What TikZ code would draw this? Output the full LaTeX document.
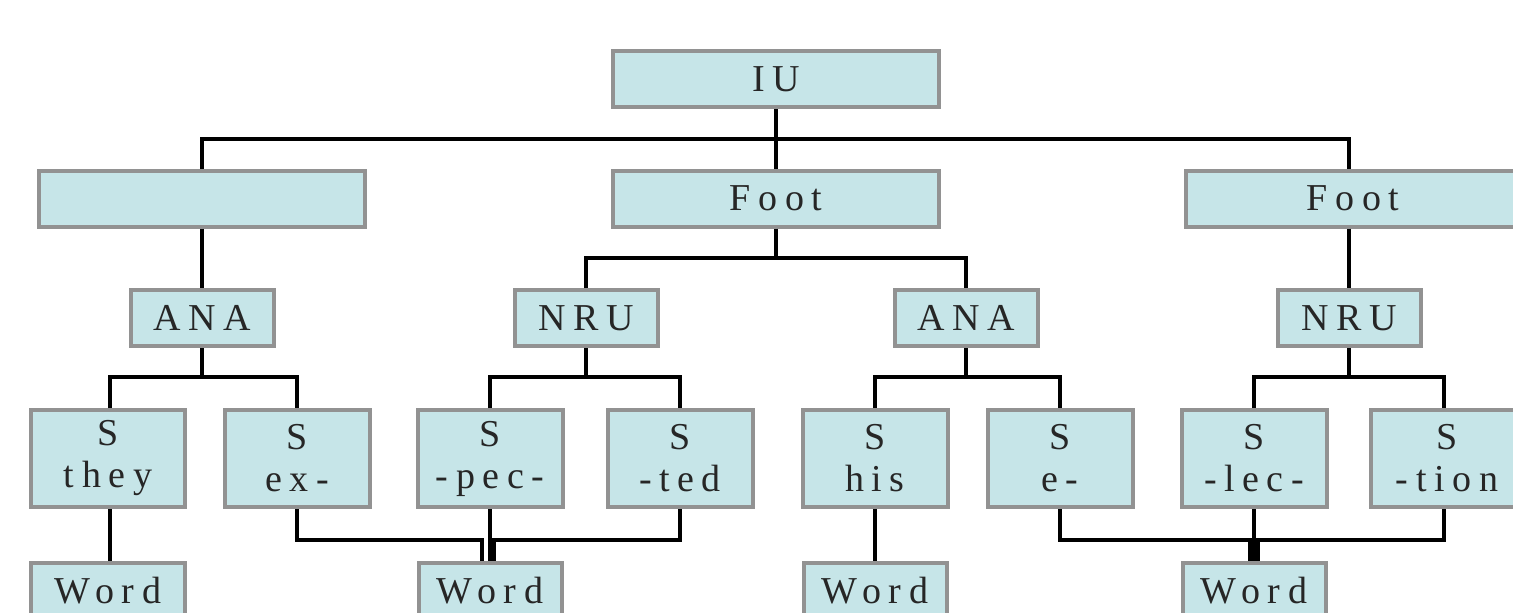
\documentclass[tikz,border=0pt]{standalone}
\usepackage{fontspec}
\newfontfamily\boxfont[LetterSpace=20]{Liberation Serif}
\definecolor{boxfill}{RGB}{198,229,232}
\definecolor{boxgray}{RGB}{146,146,146}

\begin{document}
\begin{tikzpicture}[x=1pt,y=-1pt,
  unit/.style={draw=boxgray, line width=4pt, fill=boxfill, text=black!85,
    inner sep=0pt, align=center, font=\boxfont\fontsize{38}{42}\selectfont},
  wide/.style={unit, minimum width=326pt, minimum height=56pt},
  small/.style={unit, minimum width=143pt, minimum height=56pt},
  syl/.style={unit, minimum width=145pt, minimum height=97pt},
  link/.style={line width=3.3pt}]
\useasboundingbox (0,0) rectangle (1513,613);
\clip (0,0) rectangle (1513,613);

% top unit
\node (iu) [wide] at (776,79) {IU};

% feet
\node (blank) [wide] at (202,198.5) {};
\node (foot1) [wide] at (776,198.5) {Foot};
\node (foot2) [wide, minimum width=334pt] at (1353,198.5) {Foot};

% third row
\node (ana1) [small] at (202,318) {ANA};
\node (nru1) [small] at (586,318) {NRU};
\node (ana2) [small] at (966,318) {ANA};
\node (nru2) [small] at (1349,318) {NRU};

% syllables
\node (sthey) [syl, minimum width=154pt] at (108,458.5) {S\\they};
\node (sex) [syl] at (297,458.5) {S\\ex-};
\node (spec) [syl] at (490,458.5) {S\\-pec-};
\node (sted) [syl] at (680,458.5) {S\\-ted};
\node (shis) [syl] at (875,458.5) {S\\his};
\node (se) [syl] at (1060,458.5) {S\\e-};
\node (slec) [syl] at (1254,458.5) {S\\-lec-};
\node (stion) [syl, minimum width=152pt] at (1447,458.5) {S\\-tion};

% words
\node (word1) [small, minimum width=154pt] at (108,591) {Word};
\node (word2) [small] at (490,591) {Word};
\node (word3) [small] at (875,591) {Word};
\node (word4) [small] at (1254,591) {Word};

% bar levels
\coordinate (bar0) at (776,139);
\coordinate (bar1) at (776,258);
\coordinate (bar2) at (202,377);
\coordinate (bar3) at (586,377);
\coordinate (bar4) at (966,377);
\coordinate (bar5) at (1349,377);

% IU to feet
\draw[link] (iu.south) -- (foot1.north);
\draw[link] (blank.north) |- (bar0) -| (foot2.north -| 1349,0);

% feet to second level
\draw[link] (blank.south) -- (ana1.north);
\draw[link] (foot1.south) -- (bar1);
\draw[link] (nru1.north) |- (bar1) -| (ana2.north);
\draw[link] (foot2.south -| 1349,0) -- (nru2.north);

% second level to syllables
\draw[link] (ana1.south) -- (bar2);
\draw[link] (sthey.north -| 110,0) |- (bar2) -| (sex.north);
\draw[link] (nru1.south) -- (bar3);
\draw[link] (spec.north) |- (bar3) -| (sted.north);
\draw[link] (ana2.south) -- (bar4);
\draw[link] (shis.north) |- (bar4) -| (se.north);
\draw[link] (nru2.south) -- (bar5);
\draw[link] (slec.north) |- (bar5) -| (stion.north -| 1444,0);

% syllables to words
\coordinate (j1) at (482,540);
\coordinate (j2) at (494,540);
\coordinate (j3) at (1250,540);
\coordinate (j4) at (1258,540);
\draw[link] (sthey.south -| 110,0) -- (word1.north -| 110,0);
\draw[link] (sex.south) |- (j1) -- (j1 |- word2.north);
\draw[link] (spec.south) -- (word2.north);
\draw[link] (sted.south) |- (j2) -- (j2 |- word2.north);
\draw[link] (shis.south) -- (word3.north);
\draw[link] (se.south) |- (j3) -- (j3 |- word4.north);
\draw[link] (slec.south) -- (word4.north);
\draw[link] (stion.south -| 1444,0) |- (j4) -- (j4 |- word4.north);
\end{tikzpicture}
\end{document}
